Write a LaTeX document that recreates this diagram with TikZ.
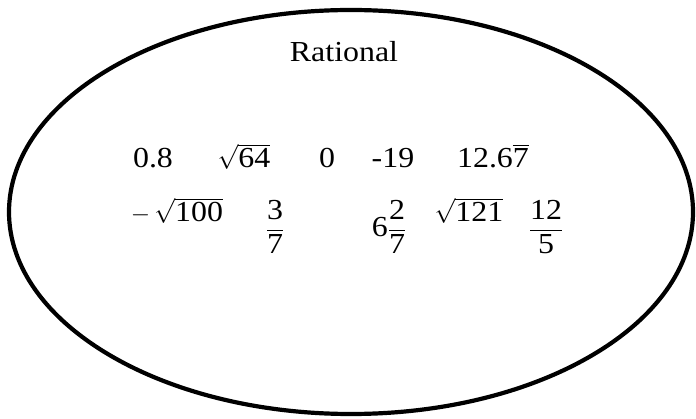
\documentclass[tikz,border=0pt]{standalone}
\usepackage{amsmath}
\usepackage{fontspec}
\setmainfont{Liberation Serif}[FakeStretch=1.1]
\usepackage{tikz}
\usetikzlibrary{positioning}

\newcommand{\numfont}{\fontsize{29}{35}\selectfont}
\newcommand{\tn}[1]{\text{#1}}

\begin{document}
\begin{tikzpicture}[
    x=1pt, y=-1pt,
    num/.style={anchor=base, font=\numfont, inner sep=0pt},
    frac/.style={anchor=center, font=\numfont, inner sep=0pt},
    title/.style={anchor=base, font=\numfont, inner sep=0pt},
    setline/.style={line width=4.2pt, draw=black}
]
    \useasboundingbox (0,0) rectangle (696,419);

    % Set outline
    \draw [setline] (351,212) ellipse [x radius=342, y radius=202];

    % Title
    \node (rational) [title] at (344,62) {Rational};

    % First row
    \node (dec) [num] at (153,168) {0.8};
    \node (sqrtsf) [num] at (244,168) {$\sqrt{\tn{64}}$};
    \node (zero) [num] at (327,168) {0};
    \node (negnt) [num] at (393,168) {-19};
    \node (rep) [num] at (493,168) {12.6$\overline{\tn{7}}$};

    % Second row
    \node (negroot) [num] at (177,222) {$-\,\sqrt{\tn{100}}$};
    \node (threesev) [frac] at (275,227) {$\dfrac{\tn{3}}{\tn{7}}$};
    \node (mixed) [frac] at (389,227) {6$\dfrac{\tn{2}}{\tn{7}}$};
    \node (rootot) [num] at (469,222) {$\sqrt{\tn{121}}$};
    \node (twfive) [frac] at (546,227) {$\dfrac{\tn{12}}{\tn{5}}$};
\end{tikzpicture}
\end{document}
